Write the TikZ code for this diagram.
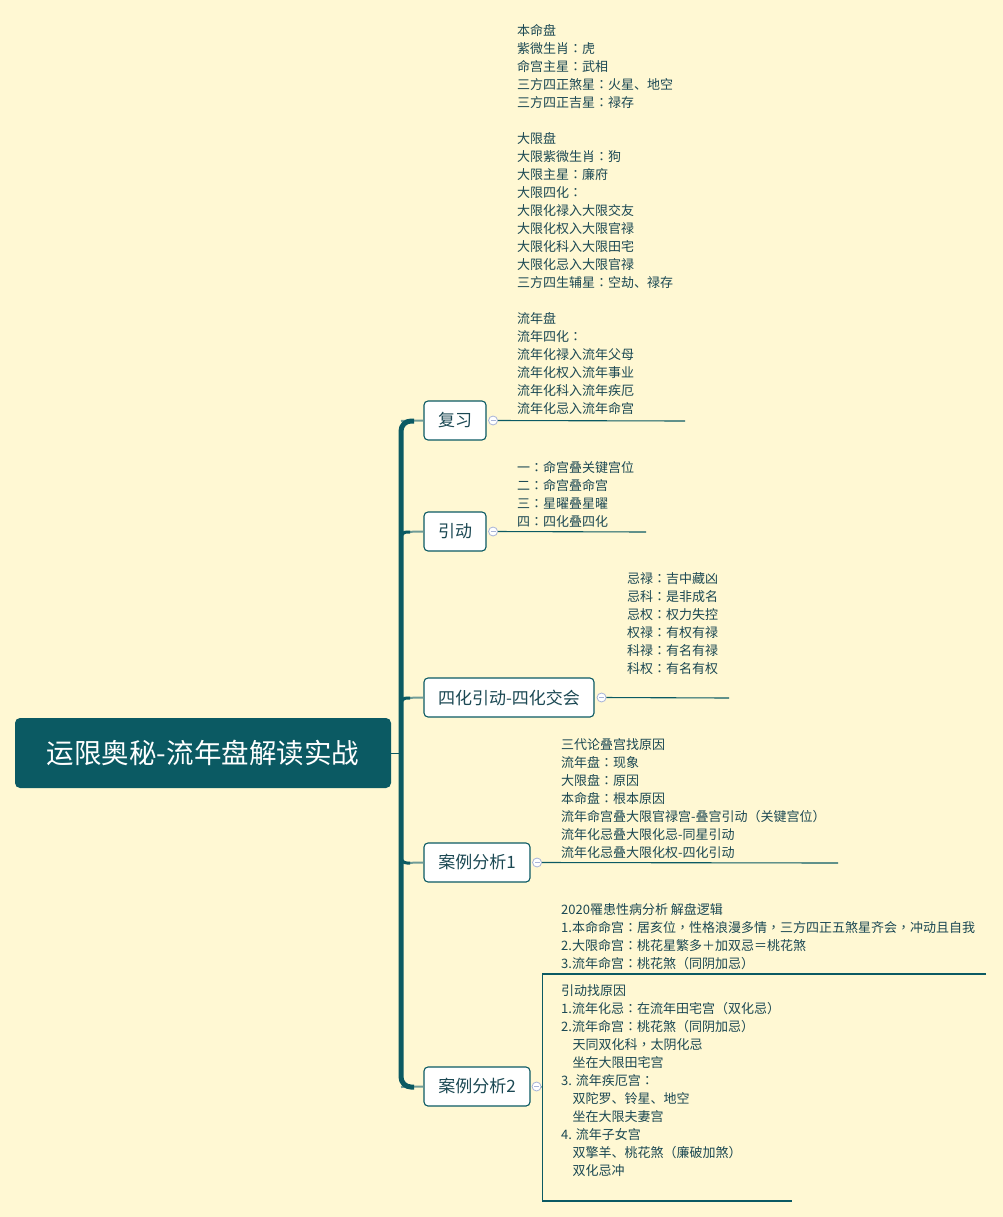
\documentclass[tikz,border=0pt]{standalone}
\usepackage{fontspec}
\setmainfont{Noto Sans CJK SC}
\newfontfamily\tcf{Noto Sans CJK TC}
\newcommand\cln{{\tcf ：}}
\newcommand\cma{{\tcf ，}}
\newcommand\lpr{{\tcf （}}
\newcommand\rpr{{\tcf ）}}
\definecolor{bgc}{HTML}{FFF8D3}
\definecolor{mteal}{HTML}{0B5A63}
\definecolor{txtc}{HTML}{1B4853}
\definecolor{branchc}{HTML}{6F9C98}
\definecolor{knobc}{HTML}{A8B4D8}
\newcommand\tblock[4]{\foreach \t [count=\i] in {#4} {\node[txtline] (#3-\i) at (#1, {#2+18*(\i-1)}) {\t};}}
\begin{document}
\begin{tikzpicture}[x=1pt,y=-1pt,
  mainst/.style={fill=mteal, rounded corners=5pt, minimum width=376pt, minimum height=70pt, inner sep=0pt, text=white, font=\fontsize{27.5}{30}\selectfont},
  topic/.style={draw=mteal, line width=1.1pt, fill=white, rounded corners=4pt, minimum height=39pt, inner sep=0pt, text=txtc, font=\fontsize{17}{18}\selectfont},
  knob/.style={circle, draw=knobc, fill=white, line width=0.8pt, minimum size=9pt, inner sep=0pt,
    path picture={\draw[knobc, line width=0.8pt] ([xshift=-2.5pt]path picture bounding box.center) -- ([xshift=2.5pt]path picture bounding box.center);}},
  subl/.style={draw=mteal, line width=1.1pt},
  trunk/.style={draw=mteal, line width=5pt, rounded corners=10pt},
  fillet/.style={draw=mteal, line width=3pt, rounded corners=6pt},
  branch/.style={draw=branchc, line width=2pt},
  txtline/.style={anchor=west, inner sep=0pt, text=txtc, font=\fontsize{13}{18}\selectfont, text height=12.5pt, text depth=0pt}
]
\useasboundingbox[fill=bgc] (0,0) rectangle (1003,1217);

% root
\node[mainst] (root) at (203,753) {运限奥秘-流年盘解读实战};

% topics
\node[topic, minimum width=62pt]  (n1) at (455,420.5)  {复习};
\node[topic, minimum width=62pt]  (n2) at (455,531.5)  {引动};
\node[topic, minimum width=170pt] (n3) at (509,697.5)  {四化引动-四化交会};
\node[topic, minimum width=106pt] (n4) at (477,862.5)  {案例分析1};
\node[topic, minimum width=106pt] (n5) at (477,1086.5) {案例分析2};

% trunk coordinates
\coordinate (t0) at (401,753);
\coordinate (t1) at (401,421);
\coordinate (t2) at (401,532);
\coordinate (t3) at (401,698);
\coordinate (t4) at (401,863);
\coordinate (t5) at (401,1087);

% branches
\draw[branch] (t1) -- (n1.west);
\draw[branch] (t2) -- (n2.west);
\draw[branch] (t3) -- (n3.west);
\draw[branch] (t4) -- (n4.west);
\draw[branch] (t5) -- (n5.west);
\draw[trunk] ([xshift=13pt]t1) -- (t1) -- (t5) -- ([xshift=13pt]t5);
\draw[fillet] ([yshift=-9pt]t2) -- (t2) -- ([xshift=9pt]t2);
\draw[fillet] ([yshift=-9pt]t3) -- (t3) -- ([xshift=9pt]t3);
\draw[fillet] ([yshift=9pt]t4) -- (t4) -- ([xshift=9pt]t4);
\draw[mteal, line width=1pt] (root.east) -- (t0);

% knobs
\node[knob] (k1) at ([xshift=6.5pt]n1.east) {};
\node[knob] (k2) at ([xshift=6.5pt]n2.east) {};
\node[knob] (k3) at ([xshift=7pt]n3.east) {};
\node[knob] (k4) at ([xshift=6.5pt]n4.east) {};
\node[knob] (k5) at ([xshift=6pt]n5.east) {};

% subtopic lines
\coordinate (e1) at (685,421);
\coordinate (e2) at (646,532);
\coordinate (e3) at (729,698);
\coordinate (e4) at (838,863);
\coordinate (e5) at (542.5,1087);
\coordinate (e5a) at (986,974);
\coordinate (e5b) at (792,1201);
\draw[subl] (k1) -- (e1);
\draw[subl] (k2) -- (e2);
\draw[subl] (k3) -- (e3);
\draw[subl] (k4) -- (e4);
\draw[subl] (k5) -- (e5);
\draw[subl] (e5a) -| (e5) |- (e5b);

% texts
\tblock{517}{29}{a}{本命盘,紫微生肖\cln 虎,命宫主星\cln 武相,三方四正煞星\cln 火星、地空,三方四正吉星\cln 禄存}
\tblock{517}{137}{b}{大限盘,大限紫微生肖\cln 狗,大限主星\cln 廉府,大限四化\cln,大限化禄入大限交友,大限化权入大限官禄,大限化科入大限田宅,大限化忌入大限官禄,三方四生辅星\cln 空劫、禄存}
\tblock{517}{317}{c}{流年盘,流年四化\cln,流年化禄入流年父母,流年化权入流年事业,流年化科入流年疾厄,流年化忌入流年命宫}
\tblock{517}{466}{d}{一\cln 命宫叠关键宫位,二\cln 命宫叠命宫,三\cln 星曜叠星曜,四\cln 四化叠四化}
\tblock{627}{577}{f}{忌禄\cln 吉中藏凶,忌科\cln 是非成名,忌权\cln 权力失控,权禄\cln 有权有禄,科禄\cln 有名有禄,科权\cln 有名有权}
\tblock{561}{743}{g}{三代论叠宫找原因,流年盘\cln 现象,大限盘\cln 原因,本命盘\cln 根本原因,流年命宫叠大限官禄宫-叠宫引动\lpr 关键宫位\rpr,流年化忌叠大限化忌-同星引动,流年化忌叠大限化权-四化引动}
\tblock{561}{908}{h}{2020罹患性病分析 解盘逻辑,1.本命命宫\cln 居亥位\cma 性格浪漫多情\cma 三方四正五煞星齐会\cma 冲动且自我,2.大限命宫\cln 桃花星繁多＋加双忌＝桃花煞,3.流年命宫\cln 桃花煞\lpr 同阴加忌\rpr}
\tblock{561}{989}{m}{引动找原因,1.流年化忌\cln 在流年田宅宫\lpr 双化忌\rpr,2.流年命宫\cln 桃花煞\lpr 同阴加忌\rpr,\hspace*{11.5pt}天同双化科\cma 太阴化忌,\hspace*{11.5pt}坐在大限田宅宫,3. 流年疾厄宫\cln,\hspace*{11.5pt}双陀罗、铃星、地空,\hspace*{11.5pt}坐在大限夫妻宫,4. 流年子女宫,\hspace*{11.5pt}双擎羊、桃花煞\lpr 廉破加煞\rpr,\hspace*{11.5pt}双化忌冲}
\end{tikzpicture}
\end{document}
